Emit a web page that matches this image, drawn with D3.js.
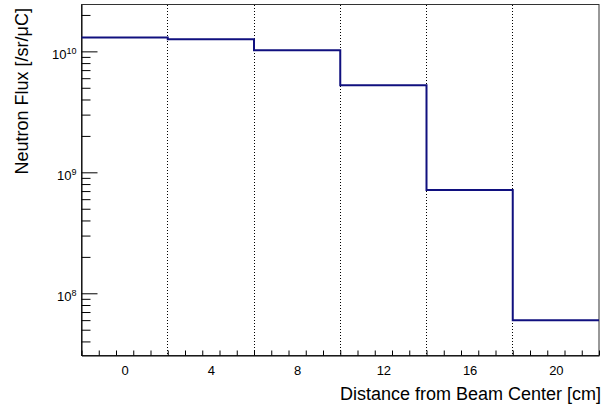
<!DOCTYPE html>
<html>
<head>
<meta charset="utf-8">
<script src="https://cdn.jsdelivr.net/npm/d3@7"></script>
<style>
  body { margin: 0; background: #fff; }
  svg { display: block; font-family: "Liberation Sans", Arial, Helvetica, sans-serif; }
  .axis path { stroke: #000; }
  .axis line { stroke: #000; }
  .axis text { fill: #000; font-size: 13px; }
</style>
</head>
<body>
<svg id="chart"></svg>
<script>
// bin edges of the histogram (cm) and flux per bin (/sr/uC)
const binEdges = [-2, 2, 6, 10, 14, 18, 22];
const flux = [1.30e10, 1.26e10, 1.02e10, 5.24e9, 7.15e8, 6.0e7];
const xLabels = [0, 4, 8, 12, 16, 20];
const yDecades = [1e8, 1e9, 1e10];
const xDomain = [-2, 22];
const yDomain = [3.06e7, 2.44e10];

const svgWidth = 608, svgHeight = 405;
const margin = { top: 4.5, right: 9, bottom: 49.5, left: 81.5 };
const width = svgWidth - margin.left - margin.right;
const height = svgHeight - margin.top - margin.bottom;

const svg = d3.select("#chart")
    .attr("width", svgWidth)
    .attr("height", svgHeight);

const g = svg.append("g")
    .attr("transform", "translate(" + margin.left + "," + margin.top + ")");

const x = d3.scaleLinear().domain(xDomain).range([0, width]);
const y = d3.scaleLog().domain(yDomain).range([height, 0]);

// frame
g.append("rect")
    .attr("width", width)
    .attr("height", height)
    .attr("fill", "none")
    .attr("stroke", "#333")
    .attr("stroke-width", 1);

// dotted lines at the inner bin edges
g.selectAll(".edge")
    .data(binEdges.slice(1, -1))
    .enter().append("line")
    .attr("class", "edge")
    .attr("x1", d => Math.round(x(d)))
    .attr("x2", d => Math.round(x(d)))
    .attr("y1", 0)
    .attr("y2", height)
    .attr("stroke", "#000")
    .attr("stroke-width", 1)
    .attr("shape-rendering", "crispEdges")
    .attr("stroke-dasharray", "1,2");

// x ticks every 0.8 cm, labels at bin centres
const xMinor = d3.range(0, 31).map(i => xDomain[0] + 0.8 * i);

g.append("g")
    .classed("axis", true)
    .attr("transform", "translate(0," + height + ")")
    .call(d3.axisBottom(x).tickValues(xMinor).tickSize(-5).tickSizeOuter(0).tickFormat(""));

g.append("g")
    .classed("axis", true)
    .attr("transform", "translate(0," + height + ")")
    .call(d3.axisBottom(x).tickValues(xLabels).tickSize(0).tickPadding(10).tickFormat(d3.format("d")))
    .select(".domain").remove();

// y ticks: minor 2..9 per decade, major at decades
const yMinor = [];
[1e7, 1e8, 1e9, 1e10].forEach(function(dec) {
    for (let k = 2; k <= 9; k++) {
        const v = dec * k;
        if (v >= yDomain[0] && v <= yDomain[1]) yMinor.push(v);
    }
});

g.append("g")
    .classed("axis", true)
    .call(d3.axisLeft(y).tickValues(yMinor).tickSize(-9).tickSizeOuter(0).tickFormat(""));

const yMajor = g.append("g")
    .classed("axis", true)
    .call(d3.axisLeft(y).tickValues(yDecades).tickSize(-16).tickSizeOuter(0).tickPadding(5).tickFormat(""));

yMajor.select(".domain").remove();

yMajor.selectAll(".tick text")
    .attr("dy", "0.55em")
    .each(function(d) {
        const t = d3.select(this);
        t.append("tspan").text("10");
        t.append("tspan")
            .attr("dy", "-0.55em")
            .attr("font-size", "9px")
            .text(Math.round(Math.log10(d)));
    });

// step histogram
const points = flux.map((f, i) => [binEdges[i], f]);
points.push([binEdges[binEdges.length - 1], flux[flux.length - 1]]);

const line = d3.line()
    .curve(d3.curveStepAfter)
    .x(d => x(d[0]))
    .y(d => y(d[1]));

g.append("path")
    .datum(points)
    .attr("fill", "none")
    .attr("stroke", "#10107f")
    .attr("stroke-width", 2)
    .attr("d", line);

// axis titles
svg.append("text")
    .attr("x", 601)
    .attr("y", 400)
    .attr("text-anchor", "end")
    .attr("font-size", "18px")
    .text("Distance from Beam Center [cm]");

svg.append("text")
    .attr("transform", "translate(28,8) rotate(-90)")
    .attr("text-anchor", "end")
    .attr("font-size", "18px")
    .text("Neutron Flux [/sr/μC]");
</script>
</body>
</html>
